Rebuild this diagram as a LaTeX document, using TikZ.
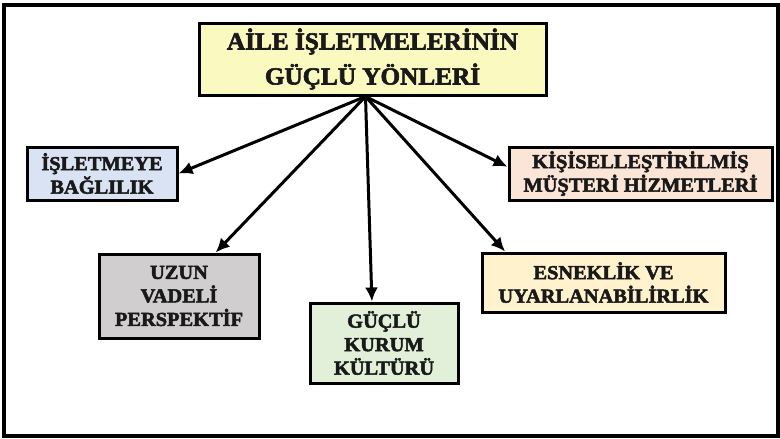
\documentclass[tikz,border=0pt]{standalone}
\usepackage{fontspec}
\setmainfont{Liberation Serif}[FakeStretch=1.03, BoldFeatures={FakeBold=2.5}]
\usetikzlibrary{arrows.meta,calc}

\definecolor{titlefill}{RGB}{250,250,192}
\definecolor{bluefill}{RGB}{218,227,243}
\definecolor{peachfill}{RGB}{251,229,214}
\definecolor{grayfill}{RGB}{208,206,206}
\definecolor{greenfill}{RGB}{226,240,217}
\definecolor{creamfill}{RGB}{255,242,204}

\begin{document}
\begin{tikzpicture}[x=1pt,y=1pt,
  box/.style={draw=black, line width=3pt, align=center, inner sep=0pt,
              text=black!90, font=\fontsize{19.8}{23.5}\selectfont\bfseries},
  titlebox/.style={box, font=\fontsize{24.5}{35}\selectfont\bfseries},
  link/.style={line width=3pt, -{Latex[length=14pt,width=13pt]}}]

\useasboundingbox (0,0) rectangle (780,-439);

% outer frame
\draw[line width=4pt] (4,-5) rectangle (778,-436);

% title
\node[titlebox, fill=titlefill, minimum width=347pt, minimum height=72pt]
  (title) at (372.5,-59) {AİLE İŞLETMELERİNİN\\GÜÇLÜ YÖNLERİ};

% strengths
\node[box, fill=bluefill, minimum width=150pt, minimum height=53pt]
  (bond) at (102,-173.5) {İŞLETMEYE\\BAĞLILIK};
\node[box, fill=peachfill, minimum width=263pt, minimum height=53pt]
  (service) at (640.5,-173.5) {KİŞİSELLEŞTİRİLMİŞ\\MÜŞTERİ HİZMETLERİ};
\node[box, fill=grayfill, minimum width=160pt, minimum height=84pt]
  (longterm) at (179,-296) {UZUN\\VADELİ\\PERSPEKTİF};
\node[box, fill=greenfill, minimum width=148pt, minimum height=80pt]
  (culture) at (384,-343) {GÜÇLÜ\\KURUM\\KÜLTÜRÜ};
\node[box, fill=creamfill, minimum width=243pt, minimum height=59pt]
  (flex) at (603.5,-282.5) {ESNEKLİK VE\\UYARLANABİLİRLİK};

% connectors
\coordinate (hub) at ($(title.south west)!0.48!(title.south east)$);
\draw[link] (hub) -- (bond.east);
\draw[link] (hub) -- ($(longterm.north west)!0.725!(longterm.north east)$);
\draw[link] (hub) -- ($(culture.north west)!0.42!(culture.north east)$);
\draw[link] (hub) -- ($(flex.north west)!0.1!(flex.north east)$);
\draw[link] (hub) -- ($(service.north west)!0.38!(service.south west)$);
\end{tikzpicture}
\end{document}
